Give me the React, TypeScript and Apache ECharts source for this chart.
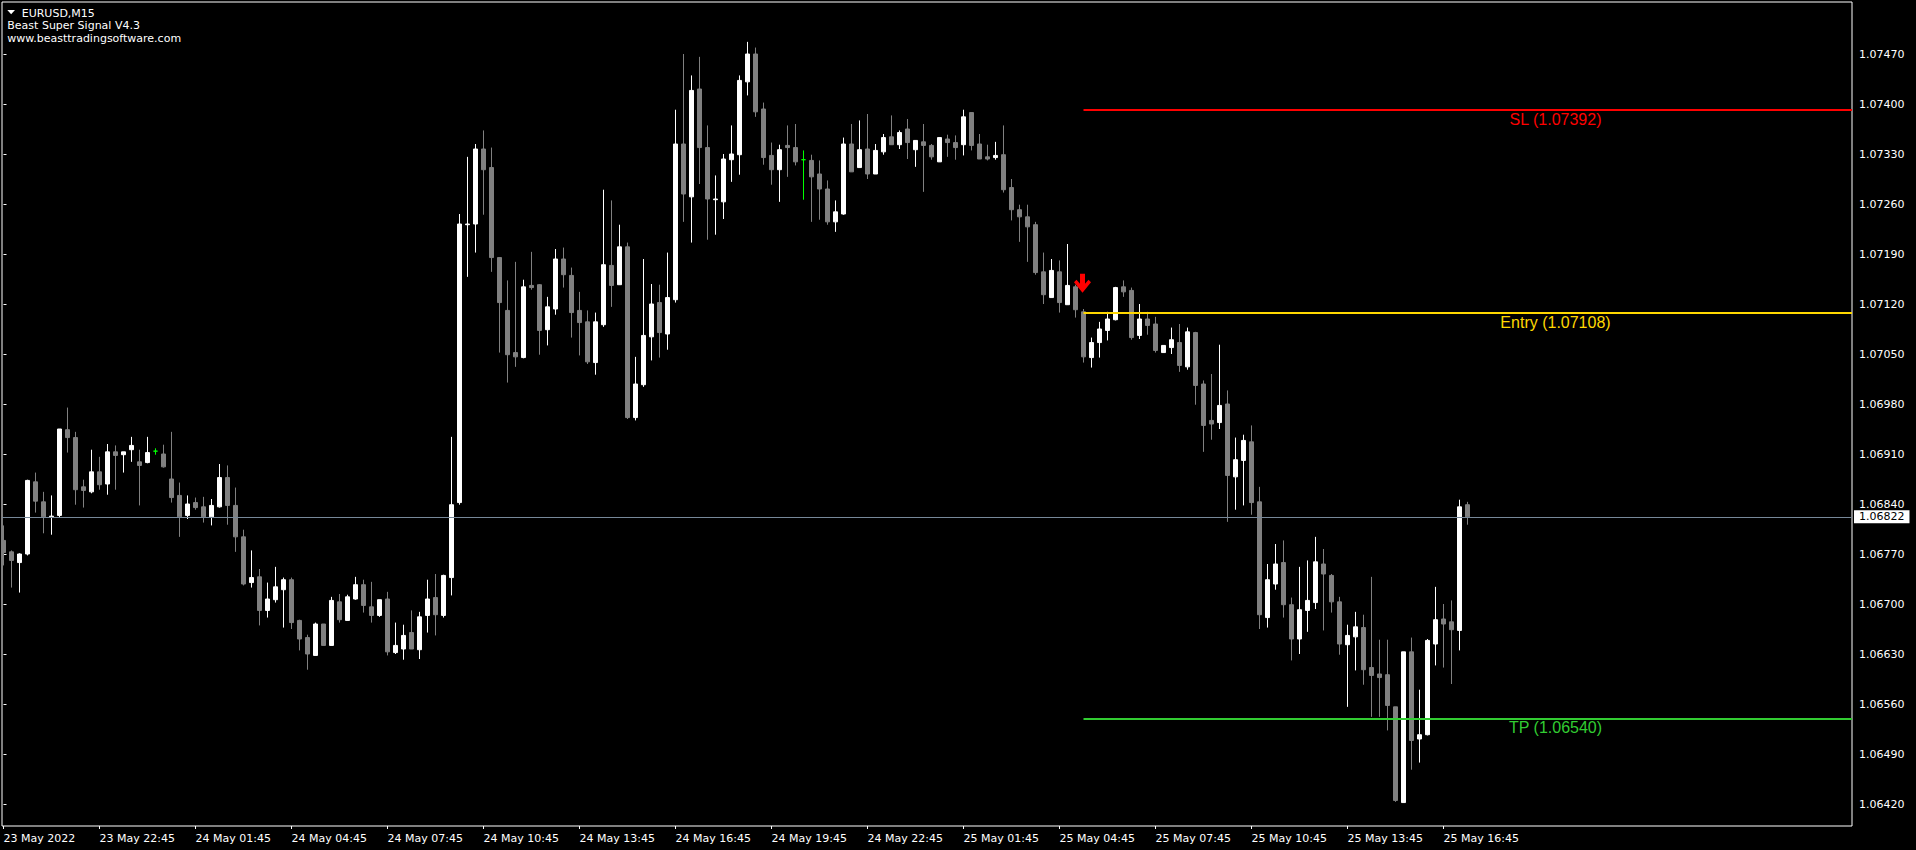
import React, { useEffect, useRef } from 'react';
import * as echarts from 'echarts';

const chartTitle = 'EURUSD,M15';
const indicatorName = 'Beast Super Signal V4.3';
const website = 'www.beasttradingsoftware.com';

// M15 bars, 23 May 2022 19:45 onwards (bar index = position)
const open = [
  1.06789,1.06773,1.06758,1.06770,1.06871,1.06843,1.06822,1.06824,1.06944,1.06933,
  1.06864,1.06857,1.06885,1.06868,1.06913,1.06909,1.06916,1.06899,1.06898,1.06914,
  1.06910,1.06875,1.06852,1.06824,1.06842,1.06836,1.06822,1.06836,1.06877,1.06838,
  1.06794,1.06730,1.06738,1.06691,1.06706,1.06720,1.06734,1.06677,1.06653,1.06628,
  1.06672,1.06642,1.06703,1.06677,1.06707,1.06727,1.06696,1.06684,1.06707,1.06632,
  1.06637,1.06660,1.06636,1.06684,1.06709,1.06684,1.06737,1.06842,1.07231,1.07232,
  1.07337,1.07311,1.07185,1.07111,1.07052,1.07045,1.07146,1.07147,1.07084,1.07113,
  1.07183,1.07160,1.07111,1.07095,1.07038,1.07091,1.07174,1.07147,1.07200,1.06961,
  1.07007,1.07074,1.07122,1.07078,1.07126,1.07344,1.07270,1.07421,1.07339,1.07266,
  1.07263,1.07322,1.07329,1.07431,1.07470,1.07393,1.07328,1.07308,1.07342,1.07339,
  1.07322,1.07321,1.07302,1.07281,1.07235,1.07246,1.07344,1.07311,1.07337,1.07302,
  1.07333,1.07354,1.07343,1.07365,1.07336,1.07347,1.07342,1.07319,1.07351,1.07346,
  1.07343,1.07388,1.07344,1.07326,1.07325,1.07329,1.07283,1.07252,1.07242,1.07231,
  1.07165,1.07129,1.07165,1.07119,1.07144,1.07109,1.07045,1.07066,1.07083,1.07098,
  1.07144,1.07139,1.07076,1.07099,1.07092,1.07052,1.07059,1.07066,1.07032,1.07080,
  1.07008,1.06957,1.06954,1.06980,1.06878,1.06901,1.06927,1.06843,1.06681,1.06728,
  1.06758,1.06699,1.06651,1.06691,1.06702,1.06756,1.06740,1.06703,1.06643,1.06654,
  1.06667,1.06611,1.06602,1.06601,1.06556,1.06422,1.06633,1.06511,1.06517,1.06644,
  1.06679,1.06675,1.06663,1.06839,
];
const close = [
  1.06772,1.06761,1.06770,1.06873,1.06844,1.06822,1.06823,1.06945,1.06933,1.06860,
  1.06859,1.06885,1.06867,1.06913,1.06908,1.06913,1.06922,1.06894,1.06912,1.06914,
  1.06892,1.06849,1.06822,1.06840,1.06835,1.06822,1.06838,1.06877,1.06838,1.06794,
  1.06728,1.06737,1.06691,1.06707,1.06724,1.06734,1.06674,1.06651,1.06630,1.06672,
  1.06642,1.06705,1.06678,1.06710,1.06727,1.06698,1.06684,1.06706,1.06633,1.06642,
  1.06656,1.06637,1.06682,1.06707,1.06685,1.06740,1.06839,1.07232,1.07232,1.07337,
  1.07308,1.07185,1.07122,1.07049,1.07046,1.07144,1.07143,1.07083,1.07116,1.07183,
  1.07161,1.07108,1.07094,1.07039,1.07095,1.07175,1.07146,1.07200,1.06961,1.07008,
  1.07076,1.07120,1.07080,1.07129,1.07344,1.07274,1.07419,1.07339,1.07267,1.07267,
  1.07323,1.07330,1.07433,1.07470,1.07389,1.07325,1.07308,1.07336,1.07339,1.07319,
  1.07322,1.07298,1.07281,1.07235,1.07249,1.07344,1.07305,1.07336,1.07302,1.07335,
  1.07353,1.07343,1.07360,1.07346,1.07349,1.07342,1.07326,1.07353,1.07346,1.07339,
  1.07382,1.07342,1.07323,1.07323,1.07328,1.07280,1.07252,1.07242,1.07228,1.07164,
  1.07133,1.07167,1.07122,1.07146,1.07112,1.07046,1.07066,1.07085,1.07099,1.07143,
  1.07137,1.07073,1.07099,1.07090,1.07055,1.07062,1.07070,1.07034,1.07081,1.07006,
  1.06950,1.06952,1.06978,1.06880,1.06902,1.06929,1.06842,1.06685,1.06734,1.06756,
  1.06699,1.06651,1.06692,1.06705,1.06759,1.06742,1.06703,1.06644,1.06656,1.06668,
  1.06608,1.06600,1.06597,1.06558,1.06425,1.06633,1.06509,1.06517,1.06649,1.06678,
  1.06672,1.06664,1.06836,1.06822,
];
const high = [
  1.06810,1.06775,1.06771,1.06874,1.06884,1.06857,1.06852,1.06945,1.06975,1.06941,
  1.06874,1.06916,1.06906,1.06924,1.06922,1.06913,1.06934,1.06916,1.06934,1.06918,
  1.06923,1.06941,1.06870,1.06852,1.06849,1.06850,1.06847,1.06896,1.06894,1.06863,
  1.06804,1.06775,1.06749,1.06730,1.06752,1.06737,1.06737,1.06678,1.06657,1.06674,
  1.06672,1.06710,1.06714,1.06713,1.06738,1.06734,1.06731,1.06706,1.06717,1.06674,
  1.06671,1.06691,1.06689,1.06734,1.06742,1.06741,1.06934,1.07246,1.07326,1.07344,
  1.07363,1.07339,1.07185,1.07153,1.07179,1.07154,1.07193,1.07148,1.07130,1.07197,
  1.07199,1.07171,1.07137,1.07111,1.07108,1.07280,1.07265,1.07231,1.07206,1.07046,
  1.07183,1.07148,1.07147,1.07192,1.07392,1.07470,1.07440,1.07466,1.07370,1.07300,
  1.07330,1.07370,1.07440,1.07487,1.07479,1.07402,1.07346,1.07343,1.07370,1.07372,
  1.07335,1.07329,1.07321,1.07293,1.07265,1.07353,1.07372,1.07377,1.07386,1.07344,
  1.07358,1.07384,1.07363,1.07379,1.07349,1.07372,1.07344,1.07353,1.07357,1.07356,
  1.07392,1.07388,1.07358,1.07343,1.07347,1.07370,1.07295,1.07259,1.07259,1.07235,
  1.07192,1.07183,1.07181,1.07204,1.07147,1.07113,1.07073,1.07095,1.07109,1.07144,
  1.07153,1.07143,1.07120,1.07109,1.07102,1.07062,1.07087,1.07092,1.07087,1.07081,
  1.07013,1.07022,1.07063,1.06999,1.06933,1.06937,1.06950,1.06864,1.06756,1.06784,
  1.06789,1.06709,1.06752,1.06761,1.06794,1.06777,1.06742,1.06710,1.06671,1.06689,
  1.06685,1.06738,1.06650,1.06650,1.06556,1.06633,1.06653,1.06580,1.06651,1.06724,
  1.06700,1.06705,1.06846,1.06843,
];
const low = [
  1.06754,1.06723,1.06716,1.06768,1.06828,1.06799,1.06797,1.06821,1.06912,1.06839,
  1.06835,1.06855,1.06860,1.06853,1.06860,1.06884,1.06899,1.06838,1.06897,1.06909,
  1.06891,1.06842,1.06794,1.06819,1.06832,1.06814,1.06810,1.06835,1.06811,1.06773,
  1.06726,1.06723,1.06670,1.06681,1.06702,1.06667,1.06665,1.06635,1.06608,1.06628,
  1.06642,1.06642,1.06674,1.06677,1.06706,1.06688,1.06674,1.06682,1.06628,1.06630,
  1.06622,1.06637,1.06623,1.06660,1.06656,1.06681,1.06712,1.06839,1.07158,1.07192,
  1.07245,1.07165,1.07052,1.07010,1.07032,1.07044,1.07140,1.07049,1.07062,1.07105,
  1.07143,1.07073,1.07048,1.07036,1.07021,1.07088,1.07116,1.07147,1.06959,1.06957,
  1.07004,1.07041,1.07045,1.07056,1.07122,1.07235,1.07206,1.07288,1.07210,1.07217,
  1.07239,1.07291,1.07301,1.07412,1.07382,1.07315,1.07287,1.07263,1.07298,1.07314,
  1.07266,1.07235,1.07238,1.07231,1.07221,1.07245,1.07305,1.07311,1.07295,1.07302,
  1.07329,1.07343,1.07337,1.07323,1.07312,1.07277,1.07322,1.07319,1.07326,1.07322,
  1.07328,1.07335,1.07323,1.07321,1.07322,1.07276,1.07237,1.07207,1.07179,1.07161,
  1.07120,1.07129,1.07108,1.07119,1.07101,1.07038,1.07031,1.07045,1.07069,1.07097,
  1.07130,1.07070,1.07071,1.07077,1.07052,1.07052,1.07050,1.07025,1.07028,1.06979,
  1.06913,1.06930,1.06945,1.06815,1.06832,1.06838,1.06825,1.06665,1.06667,1.06720,
  1.06681,1.06621,1.06630,1.06661,1.06693,1.06663,1.06688,1.06629,1.06556,1.06607,
  1.06587,1.06542,1.06542,1.06523,1.06423,1.06422,1.06468,1.06478,1.06516,1.06614,
  1.06611,1.06588,1.06635,1.06811,
];

// time axis tick labels, one every 12 bars (3 hours)
const xTickLabels = [
  '23 May 2022', '23 May 22:45', '24 May 01:45', '24 May 04:45', '24 May 07:45',
  '24 May 10:45', '24 May 13:45', '24 May 16:45', '24 May 19:45', '24 May 22:45',
  '25 May 01:45', '25 May 04:45', '25 May 07:45', '25 May 10:45', '25 May 13:45',
  '25 May 16:45',
];
const barsPerTick = 12;
const xTickBars = xTickLabels.map((_, k) => k * barsPerTick);

// price axis tick labels
const yTickLabels = [
  1.06420, 1.06490, 1.06560, 1.06630, 1.06700, 1.06770, 1.06840, 1.06910,
  1.06980, 1.07050, 1.07120, 1.07190, 1.07260, 1.07330, 1.07400, 1.07470,
];

// signal
const signalBar = 135;
const arrowPrice = 1.07149;
const slPrice = 1.07392;
const entryPrice = 1.07108;
const tpPrice = 1.06540;
const levelLabelBar = 194;

// visible window of the chart
const xMin = -0.1875;
const xMax = 231.0625;
const yMin = 1.063892;
const yMax = 1.075428;

const ARROW_PATH = 'path://M6 0H11V10L14.5 6L17 8.5L8.5 19L0 8.5L2.5 6L6 10Z';

export default function App() {
  const ref = useRef<HTMLDivElement>(null);

  useEffect(() => {
    document.body.style.margin = '0';
    document.body.style.background = '#000';
    const chart = echarts.init(ref.current as HTMLDivElement, null, { renderer: 'svg' });

    const candles = open.map((o, i) => [i, o, close[i], low[i], high[i]]);
    const lastPrice = close[close.length - 1];

    const levelLabel = (text: string, price: number, color: string) => ({
      coord: [levelLabelBar, price],
      symbol: 'circle',
      symbolSize: 1,
      itemStyle: { color: 'rgba(0,0,0,0)' },
      label: {
        show: true,
        position: 'bottom',
        distance: 1,
        formatter: text,
        color,
        fontSize: 16,
        lineHeight: 16,
        fontFamily: '"Liberation Sans", Arial, sans-serif',
      },
    });

    const levelLine = (price: number, color: string) => [
      { coord: [signalBar, price], lineStyle: { color, width: 2, type: 'solid' } },
      { coord: [xMax, price] },
    ];

    const option: any = {
      animation: false,
      backgroundColor: '#000000',
      grid: {
        left: 2,
        top: 2,
        width: 1850,
        height: 824,
        show: true,
        borderColor: '#ffffff',
        borderWidth: 1,
        backgroundColor: 'transparent',
        outerBoundsMode: 'none',
        containLabel: false,
      },
      xAxis: {
        type: 'value',
        min: xMin,
        max: xMax,
        position: 'bottom',
        splitLine: { show: false },
        axisLine: { show: false },
        axisTick: {
          show: true,
          length: 3,
          customValues: xTickBars,
          lineStyle: { color: '#ffffff', width: 1 },
        },
        axisLabel: {
          show: true,
          customValues: xTickBars,
          align: 'left',
          margin: 7,
          color: '#ffffff',
          fontSize: 11,
          lineHeight: 11,
          fontFamily: '"DejaVu Sans", sans-serif',
          formatter: (v: number) => {
            const k = xTickBars.indexOf(Math.round(v));
            return k >= 0 ? xTickLabels[k] : '';
          },
        },
      },
      yAxis: {
        type: 'value',
        position: 'right',
        min: yMin,
        max: yMax,
        scale: true,
        splitLine: { show: false },
        axisLine: { show: false },
        axisTick: {
          show: true,
          length: 3,
          customValues: yTickLabels,
          lineStyle: { color: '#ffffff', width: 1 },
        },
        axisLabel: {
          show: true,
          customValues: yTickLabels,
          margin: 7,
          color: '#ffffff',
          fontSize: 11,
          fontFamily: '"DejaVu Sans", sans-serif',
          formatter: (v: number) => v.toFixed(5),
        },
      },
      series: [
        {
          type: 'candlestick',
          silent: true,
          barWidth: 4,
          data: candles,
          itemStyle: {
            color: '#ffffff',
            color0: '#808080',
            borderColor: '#ffffff',
            borderColor0: '#808080',
            borderColorDoji: '#00ff00',
            borderWidth: 1,
          },
          markLine: {
            silent: true,
            animation: false,
            symbol: ['none', 'none'],
            label: { show: false },
            data: [
              [
                { coord: [xMin, lastPrice], lineStyle: { color: '#778899', width: 1, type: 'solid' } },
                {
                  coord: [xMax, lastPrice],
                  label: {
                    show: true,
                    position: 'end',
                    distance: 2,
                    formatter: lastPrice.toFixed(5),
                    color: '#000000',
                    backgroundColor: '#ffffff',
                    padding: [1, 5, 1, 5],
                    fontSize: 11,
                    lineHeight: 11,
                    fontFamily: '"DejaVu Sans", sans-serif',
                  },
                },
              ],
              levelLine(slPrice, '#ff0000'),
              levelLine(entryPrice, '#ffd700'),
              levelLine(tpPrice, '#32cd32'),
            ],
          },
          markPoint: {
            silent: true,
            animation: false,
            data: [
              {
                coord: [signalBar, arrowPrice],
                symbol: ARROW_PATH,
                symbolSize: [17, 19],
                symbolOffset: [-1, 0],
                itemStyle: { color: '#ff0000' },
                label: { show: false },
              },
              levelLabel(`SL (${slPrice.toFixed(5)})`, slPrice, '#ff0000'),
              levelLabel(`Entry (${entryPrice.toFixed(5)})`, entryPrice, '#ffd700'),
              levelLabel(`TP (${tpPrice.toFixed(5)})`, tpPrice, '#32cd32'),
            ],
          },
        },
      ],
      graphic: [
        {
          type: 'polygon',
          silent: true,
          shape: { points: [[7.3, 10], [15, 10], [11.15, 14.2]] },
          style: { fill: '#ffffff' },
        },
        {
          type: 'text',
          silent: true,
          x: 21.7,
          y: 13,
          style: {
            text: chartTitle,
            fill: '#ffffff',
            fontSize: 11,
            fontFamily: '"DejaVu Sans", sans-serif',
            verticalAlign: 'middle',
          },
        },
        {
          type: 'text',
          silent: true,
          x: 7.3,
          y: 25.5,
          style: {
            text: indicatorName,
            fill: '#ffffff',
            fontSize: 11,
            fontFamily: '"DejaVu Sans", sans-serif',
            verticalAlign: 'middle',
          },
        },
        {
          type: 'text',
          silent: true,
          x: 7.3,
          y: 38,
          style: {
            text: website,
            fill: '#ffffff',
            fontSize: 11,
            fontFamily: '"DejaVu Sans", sans-serif',
            verticalAlign: 'middle',
          },
        },
      ],
    };

    chart.setOption(option);
    return () => chart.dispose();
  }, []);

  return <div ref={ref} style={{ width: 1916, height: 850, background: '#000' }} />;
}
